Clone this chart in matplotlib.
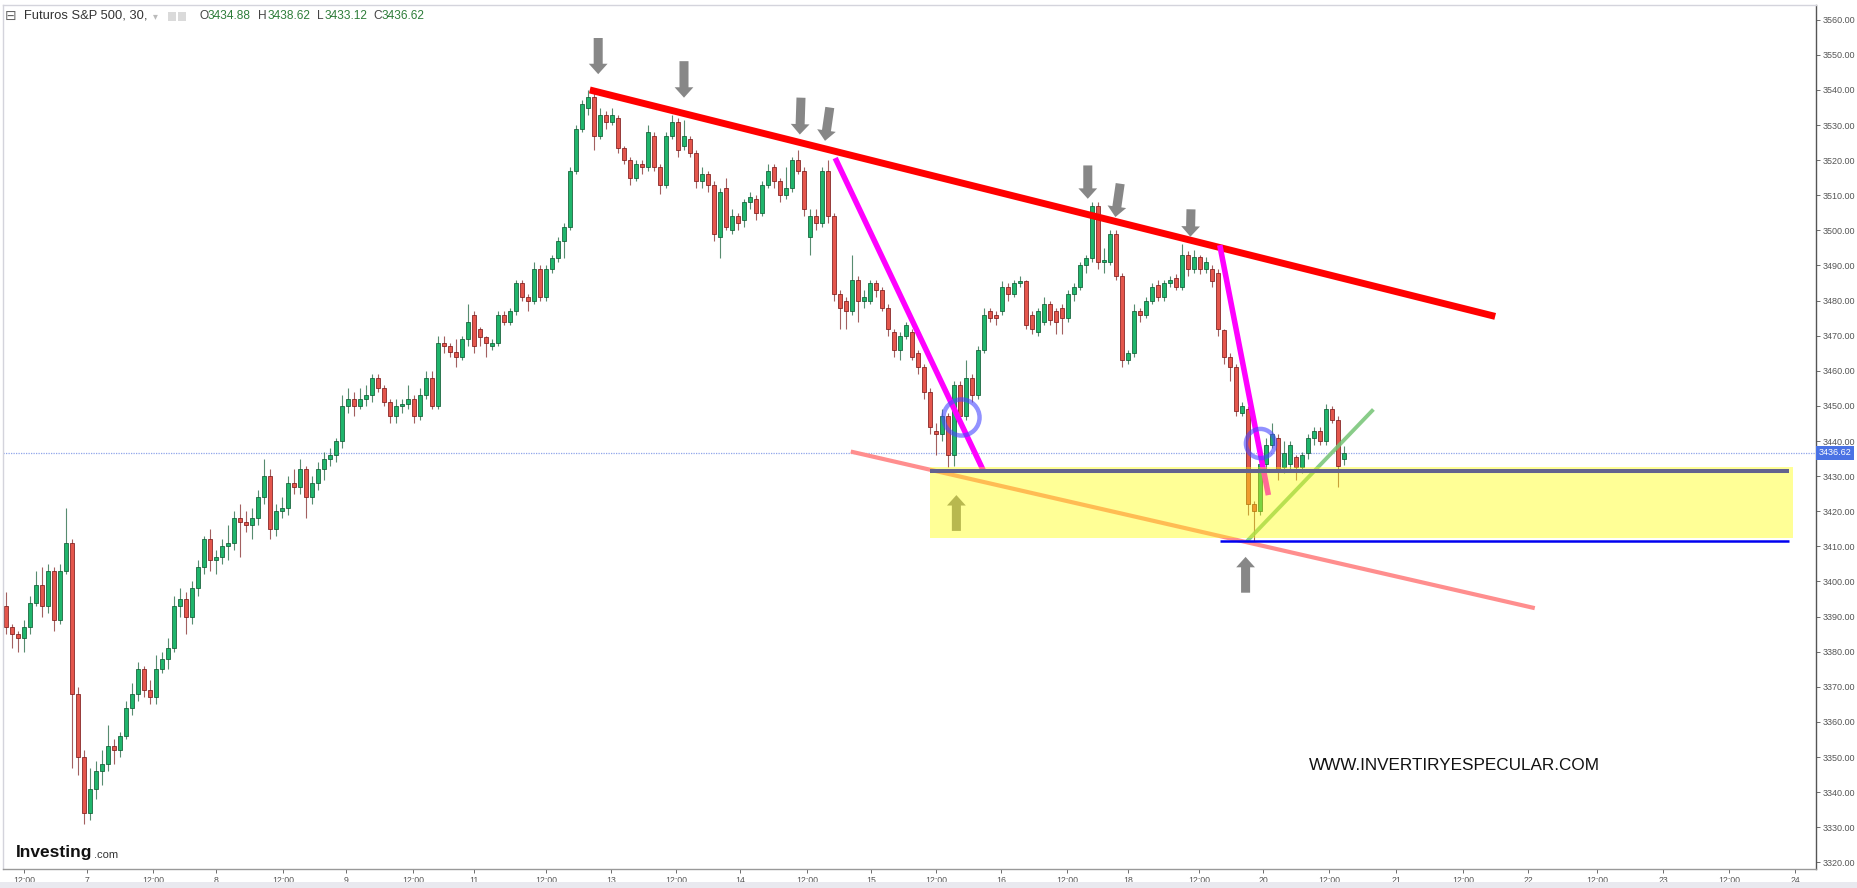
import matplotlib
matplotlib.use("Agg")
import matplotlib.pyplot as plt
import matplotlib.transforms as mtransforms
from matplotlib.patches import Rectangle
import numpy as np

plt.rcParams['font.family'] = ['Liberation Sans', 'DejaVu Sans']

W, H = 1858, 888

# ---- 30 min candles (one per slot) ----
opens = [
    3393, 3387, 3385, 3384, 3387, 3394, 3399, 3393, 3403, 3389,
    3403, 3411, 3368, 3350, 3334, 3341, 3346, 3348, 3353, 3352,
    3356, 3364, 3368, 3375, 3369, 3367, 3375, 3378, 3381, 3393,
    3395, 3390, 3398, 3404, 3412, 3406, 3407, 3410, 3411, 3418,
    3417, 3416, 3418, 3424, 3430, 3415, 3420, 3421, 3428, 3427,
    3432, 3424, 3428, 3432, 3435, 3436, 3440, 3450, 3452, 3450,
    3452, 3453, 3458, 3455, 3451, 3447, 3450, 3450.5, 3452, 3447,
    3453, 3458, 3450, 3468, 3467, 3465.5, 3464, 3469, 3476, 3472,
    3469.5, 3467, 3468, 3476, 3474, 3477, 3485, 3481, 3480, 3489,
    3481, 3489, 3492, 3497, 3501, 3517, 3529, 3535, 3538, 3527,
    3533, 3531, 3532, 3523.5, 3520, 3515, 3519, 3518, 3527, 3518,
    3513, 3527, 3531, 3524, 3526, 3522, 3514, 3516, 3513, 3498,
    3512, 3500, 3504, 3503, 3508, 3509, 3505, 3513, 3518, 3514,
    3510, 3512, 3520, 3517, 3498, 3504, 3502, 3517, 3504, 3482,
    3480, 3477, 3486, 3480, 3480, 3485, 3483, 3478, 3471, 3466,
    3470, 3471, 3465, 3461, 3454, 3443, 3442, 3447, 3436, 3456,
    3447, 3458, 3453, 3466, 3477, 3476, 3477, 3484, 3482, 3485,
    3485.5, 3476, 3471, 3474, 3479, 3477, 3478, 3475, 3482, 3484,
    3490, 3492, 3507, 3491, 3491, 3499, 3487, 3463, 3465, 3477,
    3476, 3480, 3484.5, 3481, 3485, 3486.5, 3484, 3493, 3489, 3492.5,
    3489, 3489, 3488, 3471.5, 3464, 3461, 3448, 3449, 3422, 3420,
    3433.5, 3439, 3441, 3432.5, 3433.5, 3435.5, 3432.5, 3436.5, 3441, 3443,
    3440, 3449, 3446, 3434.88,
]
highs = [
    3397, 3388, 3386, 3389, 3396, 3403, 3404, 3405, 3404, 3405,
    3421, 3412, 3370, 3352, 3347, 3349, 3352, 3359, 3355, 3357,
    3366, 3371, 3377, 3376, 3372, 3379, 3380, 3384, 3396, 3398,
    3397, 3400, 3406, 3413, 3415, 3409, 3412, 3416, 3420, 3422,
    3420, 3421, 3426, 3435, 3432, 3422, 3424, 3430, 3432, 3435,
    3433, 3430, 3434, 3437, 3438, 3441, 3453, 3455, 3454, 3455,
    3456, 3459, 3459, 3456, 3452, 3452, 3452, 3456, 3453, 3455,
    3460, 3460, 3470, 3470, 3468, 3469, 3470, 3479, 3477, 3472.5,
    3470, 3469, 3477, 3477, 3478, 3486, 3486, 3482, 3491, 3490,
    3490, 3493, 3498, 3502, 3518, 3530, 3537, 3540, 3539, 3535,
    3534, 3535, 3533, 3524, 3521, 3520, 3520, 3530, 3528, 3519,
    3528, 3533, 3532, 3531.5, 3527, 3523, 3518, 3517, 3514, 3512,
    3515, 3506, 3505, 3509, 3511, 3510, 3514, 3519, 3519, 3515,
    3518, 3521, 3523, 3518, 3506, 3506, 3518, 3520, 3505, 3483,
    3481, 3493, 3487, 3483, 3486, 3486, 3484, 3479, 3472, 3471,
    3474, 3472, 3466, 3462, 3455, 3445, 3449, 3448, 3457, 3457,
    3463, 3459, 3467, 3478, 3478, 3477, 3485.5, 3485, 3486, 3487,
    3486, 3477, 3478, 3481, 3480, 3478, 3479, 3483, 3485, 3491,
    3493, 3508, 3508, 3495, 3500, 3500, 3488, 3466, 3479, 3478,
    3481, 3485, 3486, 3486, 3487, 3487.5, 3496, 3494, 3494.5, 3493,
    3492.5, 3490, 3489, 3472, 3465, 3462, 3451, 3450, 3423, 3435,
    3441, 3445, 3442, 3440, 3440, 3436, 3437, 3442, 3444, 3444,
    3450.5, 3450, 3447, 3438.62,
]
lows = [
    3385, 3381, 3380, 3380, 3385, 3393, 3390, 3391, 3386, 3388,
    3402, 3347, 3345, 3331, 3332, 3338, 3342, 3346, 3348, 3350,
    3355, 3362, 3366, 3367, 3365, 3365, 3374, 3375, 3380, 3390,
    3385, 3388, 3396, 3402, 3403, 3402, 3405, 3406, 3409, 3407,
    3414, 3412, 3416, 3422, 3412, 3413, 3418, 3419, 3425, 3425,
    3418, 3422, 3426, 3429, 3433, 3434, 3438, 3448, 3447, 3449,
    3450, 3451, 3454, 3450, 3445, 3445, 3448, 3449, 3445, 3446,
    3452, 3449, 3449, 3465, 3464, 3461, 3463, 3467, 3465, 3467,
    3464, 3466, 3467, 3473, 3473, 3476, 3480, 3477, 3479, 3480,
    3480, 3488, 3491, 3492, 3500, 3516, 3528, 3533, 3523, 3526,
    3529, 3530, 3522, 3519, 3513, 3514, 3516, 3517, 3517, 3510.5,
    3512, 3526, 3521, 3523, 3521, 3512, 3512, 3511, 3497, 3492,
    3500, 3499, 3500, 3501, 3506, 3503, 3504, 3512, 3512, 3508,
    3509, 3511, 3516, 3504, 3493, 3500, 3501, 3502, 3480, 3472,
    3472, 3476, 3474, 3478, 3479, 3481, 3477, 3470, 3464, 3463,
    3469, 3463, 3459, 3452, 3442, 3436, 3440, 3432.7, 3433, 3445,
    3446, 3451, 3452, 3465, 3474, 3473, 3476, 3480, 3481, 3484,
    3472, 3470.5, 3470, 3473, 3473, 3470.5, 3470.5, 3474, 3480, 3483,
    3488, 3491, 3489, 3488, 3490, 3486, 3461, 3462, 3464, 3474,
    3475, 3479, 3480, 3480, 3484, 3483, 3483, 3487, 3488, 3487.5,
    3488, 3484, 3470, 3462, 3457, 3447, 3447, 3419, 3411.5, 3419,
    3432, 3438, 3429, 3431, 3432, 3429, 3431, 3435, 3439, 3439,
    3439, 3445, 3427, 3433.12,
]
closes = [
    3387, 3385, 3384, 3387, 3394, 3399, 3393, 3403, 3389, 3403,
    3411, 3368, 3350, 3334, 3341, 3346, 3348, 3353, 3352, 3356,
    3364, 3368, 3375, 3369, 3367, 3375, 3378, 3381, 3393, 3395,
    3390, 3398, 3404, 3412, 3406, 3407, 3410, 3411, 3418, 3417,
    3416, 3418, 3424, 3430, 3415, 3420, 3421, 3428, 3427, 3432,
    3424, 3428, 3432, 3435, 3436, 3440, 3450, 3452, 3450, 3452,
    3453, 3458, 3455, 3451, 3447, 3450, 3450.5, 3452, 3447, 3453,
    3458, 3450, 3468, 3467, 3465.5, 3464, 3469, 3474, 3467, 3469.5,
    3468, 3468, 3476, 3474, 3477, 3485, 3481, 3480, 3489, 3481,
    3489, 3492, 3497, 3501, 3517, 3529, 3536, 3538, 3527, 3533,
    3531, 3533, 3523.5, 3520, 3515, 3519, 3518, 3528, 3518, 3513,
    3527, 3531, 3523, 3527, 3522, 3514, 3516, 3513, 3499, 3511,
    3501, 3504, 3502, 3508, 3509.5, 3505, 3513, 3517, 3514, 3510,
    3512, 3520, 3517, 3506, 3504, 3502, 3517, 3504, 3482, 3478,
    3477, 3486, 3480, 3481, 3485, 3483, 3478, 3472, 3466, 3470,
    3473, 3464, 3461, 3454, 3444, 3442, 3447, 3436, 3456, 3447,
    3458, 3453, 3466, 3476, 3475, 3475, 3484, 3482, 3485, 3485.5,
    3473, 3472, 3477, 3479, 3474.5, 3474, 3475, 3482, 3484, 3490,
    3492, 3507, 3491, 3491.5, 3499, 3487, 3463, 3465, 3477, 3476,
    3480, 3484, 3481, 3485, 3486, 3484, 3493, 3489, 3492.5, 3489,
    3491, 3485.5, 3472, 3464, 3461, 3448.5, 3450, 3422, 3420, 3433.5,
    3439, 3442, 3432, 3436.5, 3439, 3432.5, 3436, 3441, 3443, 3440,
    3449, 3446, 3433, 3436.62,
]

x_tick_pos = [3.0, 13.5, 24.5, 35.0, 46.2, 56.7, 67.8, 78.0, 90.0, 100.8,
              111.7, 122.3, 133.5, 144.2, 155.0, 165.8, 176.8, 187.0, 198.8, 209.5,
              220.5, 231.7, 242.8, 253.7, 265.2, 276.2, 287.2, 298.2]
x_tick_labels = ['12:00', '7', '12:00', '8', '12:00', '9', '12:00', '11', '12:00', '13',
                 '12:00', '14', '12:00', '15', '12:00', '16', '12:00', '18', '12:00', '20',
                 '12:00', '21', '12:00', '22', '12:00', '23', '12:00', '24']
y_ticks = list(range(3320, 3561, 10))

last_price = 3436.62
ohlc_letters = ['O', 'H', 'L', 'C']
ohlc_values = ['3434.88', '3438.62', '3433.12', '3436.62']

# ---- hand drawn analysis (slot index, price) ----
resist_x, resist_y = [97.3, 248.2], [3540.0, 3475.5]
fall1_x, fall1_y = [138.2, 163.0], [3520.6, 3431.2]
fall2_x, fall2_y = [202.3, 210.4], [3495.8, 3424.6]
lower_x, lower_y = [140.8, 254.8], [3437.0, 3392.4]
rise_x, rise_y = [206.8, 227.9], [3411.4, 3449.0]
zone_x, zone_lo, zone_hi = [154.0, 297.8], 3412.4, 3432.6
support_x, support_y = [154.0, 297.2], 3431.5
floor_x, floor_y = [202.4, 297.2], 3411.4
circle_x, circle_y = [159.2, 209.0], [3446.8, 3439.3]
down_tip_x = [98.7, 113.0, 132.3, 136.5, 180.3, 184.9, 197.4]
down_tip_y = [3544.5, 3537.8, 3527.3, 3525.5, 3509.0, 3503.8, 3498.2]
down_tail_x = [98.7, 113.0, 132.5, 137.3, 180.3, 185.7, 197.5]
down_tail_y = [3554.8, 3548.2, 3537.8, 3535.0, 3518.5, 3513.3, 3506.0]
up_tip_x, up_tip_y = [158.4, 206.6], [3424.6, 3407.0]
up_tail_x, up_tail_y = [158.4, 206.6], [3414.4, 3396.8]

UP_FILL, UP_EDGE = '#1fb56c', '#115c34'
DN_FILL, DN_EDGE = '#e4564c', '#7d1c1c'

fig = plt.figure(figsize=(W / 100, H / 100), dpi=100)
fig.patch.set_facecolor('white')
ax = fig.add_axes([3 / W, 1 - 869 / H, (1816 - 3) / W, (869 - 5) / H])
ax.set_xlim(-0.5, 301.67)
ax.set_ylim(3318.1, 3564.2)

o, h, l, c = (np.array(a, dtype=float) for a in (opens, highs, lows, closes))
x = np.arange(len(o))
up = c >= o
body_lo = np.minimum(o, c)
body_h = np.maximum(np.abs(c - o), 0.35)

ax.axhline(last_price, color='#8ea4ea', lw=0.9, ls=(0, (1, 1)), zorder=1)

ax.vlines(x[up], l[up], h[up], color=UP_EDGE, lw=0.8, alpha=0.7, zorder=2)
ax.vlines(x[~up], l[~up], h[~up], color=DN_EDGE, lw=0.8, alpha=0.7, zorder=2)
ax.bar(x[up], body_h[up], bottom=body_lo[up], width=0.52, color=UP_FILL,
       edgecolor=UP_EDGE, linewidth=0.55, zorder=2.1)
ax.bar(x[~up], body_h[~up], bottom=body_lo[~up], width=0.52, color=DN_FILL,
       edgecolor=DN_EDGE, linewidth=0.55, zorder=2.1)

ax.plot(resist_x, resist_y, color='#ff0000', lw=5.0, solid_capstyle='butt', zorder=3)
ax.plot(fall1_x, fall1_y, color='#ff00ff', lw=4.0, solid_capstyle='butt', zorder=3)
ax.plot(fall2_x, fall2_y, color='#ff00ff', lw=4.0, solid_capstyle='butt', zorder=3)
ax.plot(lower_x, lower_y, color='#ff8e8e', lw=3.0, solid_capstyle='butt', zorder=3)
ax.plot(rise_x, rise_y, color='#74c474', lw=2.8, alpha=0.85, solid_capstyle='butt', zorder=3)

arrow_style = 'simple,head_length=0.75,head_width=1.35,tail_width=0.65'
for tx, ty, sx, sy in zip(down_tip_x + up_tip_x, down_tip_y + up_tip_y,
                          down_tail_x + up_tail_x, down_tail_y + up_tail_y):
    ax.annotate('', xy=(tx, ty), xytext=(sx, sy),
                arrowprops=dict(arrowstyle=arrow_style, fc='#878787', ec='none',
                                mutation_scale=10, shrinkA=0, shrinkB=0),
                zorder=3.5)

ax.add_patch(Rectangle((zone_x[0], zone_lo), zone_x[1] - zone_x[0], zone_hi - zone_lo,
                       facecolor='#ffff00', alpha=0.41, edgecolor='none', zorder=4))
ax.plot(support_x, [support_y, support_y], color='#63638e', lw=2.9, solid_capstyle='butt', zorder=5)
ax.plot(floor_x, [floor_y, floor_y], color='#0000f0', lw=1.8, solid_capstyle='butt', zorder=5)

ax.plot(circle_x[:1], circle_y[:1], 'o', ms=26, mfc='none', mec='#4848ff', mew=3.2, alpha=0.6, zorder=6)
ax.plot(circle_x[1:], circle_y[1:], 'o', ms=21, mfc='none', mec='#4848ff', mew=3.2, alpha=0.6, zorder=6)

# axes styling
ax.yaxis.tick_right()
ax.set_yticks(y_ticks)
ax.set_yticklabels([f'{v:.2f}' for v in y_ticks])
ax.tick_params(axis='y', labelsize=6.5, colors='#555555', length=3, width=0.6, pad=2)
ax.set_xticks(x_tick_pos)
ax.set_xticklabels(x_tick_labels)
ax.tick_params(axis='x', labelsize=6.3, colors='#555555', length=3, width=0.6, pad=2)
for side, col in (('left', '#d4d4dc'), ('top', '#d4d4dc'), ('right', '#555555'), ('bottom', '#999999')):
    ax.spines[side].set_color(col)
    ax.spines[side].set_linewidth(1.0)

blend = mtransforms.blended_transform_factory(ax.transAxes, ax.transData)
ax.text(1.0015, last_price, f'{last_price:.2f}', transform=blend, ha='left', va='center',
        fontsize=6.5, color='white', clip_on=False, zorder=10,
        bbox=dict(boxstyle='square,pad=0.25', fc='#4a72e4', ec='none'))

# header
def px(xp, yp):
    return xp / W, 1 - yp / H

fig.text(*px(5, 16), '\u229f', fontsize=10, color='#666666', va='center', family='DejaVu Sans')
fig.text(*px(24, 16), 'Futuros S&P 500, 30,', fontsize=9.3, color='#333333', va='center')
fig.text(*px(153, 16), '\u25be', fontsize=7, color='#bbbbbb', va='center', family='DejaVu Sans')
for xs in (168, 178):
    fig.add_artist(Rectangle(px(xs, 21), 8 / W, 9 / H, transform=fig.transFigure,
                             facecolor='#dadada', edgecolor='none'))
for xl, xn, letter, val in zip([200, 258, 317, 373], [207.5, 268, 325, 382], ohlc_letters, ohlc_values):
    fig.text(*px(xl, 16), letter, fontsize=8.6, color='#444444', va='center')
    fig.text(*px(xn, 16), val, fontsize=8.6, color='#2e7d3a', va='center')

# logo and watermark
fig.text(*px(16, 852), 'Investing', fontsize=12.5, fontweight='bold', color='#111111', va='center')
fig.text(*px(94, 855), '.com', fontsize=8, color='#333333', va='center')
fig.text(*px(1309, 766), 'WWW.INVERTIRYESPECULAR.COM', fontsize=12.3, color='#111111', va='center')

fig.add_artist(Rectangle((0, 0), 1, 6 / H, transform=fig.transFigure,
                         facecolor='#e9e9ef', edgecolor='none'))

fig.savefig('out.png', dpi=100)
